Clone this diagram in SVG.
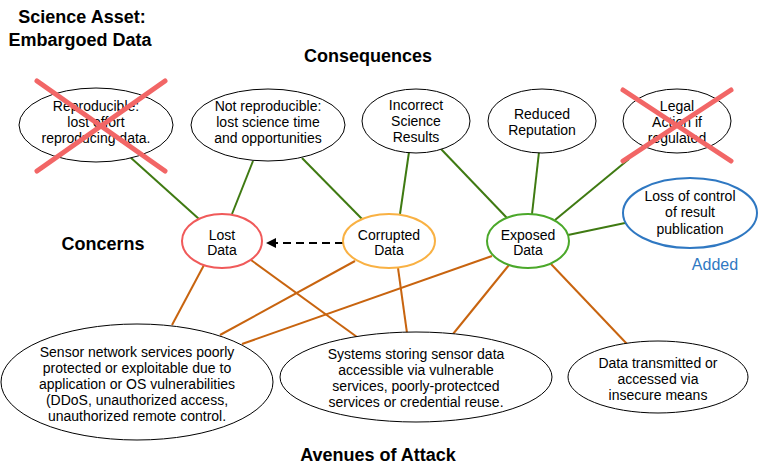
<svg xmlns="http://www.w3.org/2000/svg" width="760" height="471" viewBox="0 0 760 471">
  <style>
    .bg { fill: #ffffff; }
    .node { fill: #ffffff; stroke: #000000; stroke-width: 1; }
    .lbl { font-family: "Liberation Sans", Arial, sans-serif; font-size: 14px; fill: #000000; text-anchor: middle; }
    .head { font-family: "Liberation Sans", Arial, sans-serif; font-size: 18px; font-weight: bold; fill: #000000; text-anchor: middle; }
    .green { stroke: #3f7a12; stroke-width: 2; fill: none; }
    .orange { stroke: #c8640f; stroke-width: 2; fill: none; }
    .cross { stroke: #f26666; stroke-width: 5; stroke-linecap: round; }
  </style>
  <defs>
    <marker id="arrow" viewBox="0 0 10 10" refX="9" refY="5" markerWidth="5" markerHeight="5" orient="auto">
      <path d="M0,0 L10,5 L0,10 Z" fill="#000000"/>
    </marker>
  </defs>
  <rect class="bg" x="0" y="0" width="760" height="471"/>

  <!-- headings -->
  <g id="headings">
    <text class="head" x="82" y="23">Science Asset:</text>
    <text class="head" x="80" y="46">Embargoed Data</text>
    <text class="head" x="368" y="62">Consequences</text>
    <text class="head" x="103" y="250">Concerns</text>
    <text class="head" x="378" y="461">Avenues of Attack</text>
  </g>

  <!-- connectors -->
  <g id="connectors">
    <line class="green" x1="130" y1="157" x2="199" y2="219"/>
    <line class="green" x1="253" y1="161" x2="232" y2="214"/>
    <line class="green" x1="302" y1="158" x2="363" y2="220"/>
    <line class="green" x1="409" y1="152" x2="400" y2="214"/>
    <line class="green" x1="441" y1="149" x2="507" y2="218"/>
    <line class="green" x1="539" y1="152" x2="532" y2="214"/>
    <line class="green" x1="629" y1="159" x2="555" y2="220"/>
    <line class="green" x1="625" y1="223" x2="568" y2="235"/>

    <line class="orange" x1="204" y1="265" x2="172" y2="325"/>
    <line class="orange" x1="251" y1="260" x2="357" y2="337"/>
    <line class="orange" x1="355" y1="261" x2="220" y2="335"/>
    <line class="orange" x1="398" y1="268" x2="407" y2="333"/>
    <line class="orange" x1="492" y1="256" x2="242" y2="344"/>
    <line class="orange" x1="509" y1="265" x2="453" y2="334"/>
    <line class="orange" x1="551" y1="264" x2="627" y2="344"/>

    <line x1="343" y1="243" x2="267" y2="243" stroke="#000000" stroke-width="2" stroke-dasharray="8,5" marker-end="url(#arrow)"/>
  </g>

  <!-- consequences -->
  <g id="reproducible">
    <ellipse class="node" cx="96" cy="125" rx="77" ry="37"/>
    <text class="lbl" x="96" y="111">Reproducible:</text>
    <text class="lbl" x="96" y="127">lost effort</text>
    <text class="lbl" x="96" y="143">reproducing data.</text>
    <line class="cross" x1="37" y1="81" x2="165" y2="171"/>
    <line class="cross" x1="165" y1="81" x2="37" y2="171"/>
  </g>
  <g id="not-reproducible">
    <ellipse class="node" cx="268" cy="125" rx="77" ry="36"/>
    <text class="lbl" x="268" y="111">Not reproducible:</text>
    <text class="lbl" x="268" y="127">lost science time</text>
    <text class="lbl" x="268" y="143">and opportunities</text>
  </g>
  <g id="incorrect-results">
    <ellipse class="node" cx="416" cy="121" rx="54" ry="32"/>
    <text class="lbl" x="416" y="110">Incorrect</text>
    <text class="lbl" x="416" y="126">Science</text>
    <text class="lbl" x="416" y="142">Results</text>
  </g>
  <g id="reduced-reputation">
    <ellipse class="node" cx="542" cy="121" rx="54" ry="32"/>
    <text class="lbl" x="542" y="119">Reduced</text>
    <text class="lbl" x="542" y="135">Reputation</text>
  </g>
  <g id="legal-action">
    <ellipse class="node" cx="677" cy="121" rx="54" ry="32"/>
    <text class="lbl" x="677" y="111">Legal</text>
    <text class="lbl" x="677" y="127">Action if</text>
    <text class="lbl" x="677" y="143">regulated</text>
    <line class="cross" x1="623" y1="90" x2="731" y2="161"/>
    <line class="cross" x1="731" y1="90" x2="623" y2="161"/>
  </g>
  <g id="loss-of-control">
    <ellipse cx="690" cy="213" rx="67" ry="35" fill="#ffffff" stroke="#2f78c2" stroke-width="2"/>
    <text class="lbl" x="690" y="201">Loss of control</text>
    <text class="lbl" x="690" y="217">of result</text>
    <text class="lbl" x="690" y="234">publication</text>
    <text x="715" y="270" font-family="Liberation Sans, Arial, sans-serif" font-size="16" fill="#2f78c2" text-anchor="middle">Added</text>
  </g>

  <!-- concerns -->
  <g id="lost-data">
    <ellipse cx="222" cy="241" rx="40" ry="27" fill="#ffffff" stroke="#f05a5a" stroke-width="2"/>
    <text class="lbl" x="222" y="240">Lost</text>
    <text class="lbl" x="222" y="255">Data</text>
  </g>
  <g id="corrupted-data">
    <ellipse cx="389" cy="241" rx="46" ry="27" fill="#ffffff" stroke="#f9b143" stroke-width="2"/>
    <text class="lbl" x="389" y="240">Corrupted</text>
    <text class="lbl" x="389" y="255">Data</text>
  </g>
  <g id="exposed-data">
    <ellipse cx="528" cy="241" rx="41" ry="27" fill="#ffffff" stroke="#4ba82a" stroke-width="2"/>
    <text class="lbl" x="528" y="240">Exposed</text>
    <text class="lbl" x="528" y="255">Data</text>
  </g>

  <!-- avenues of attack -->
  <g id="sensor-services">
    <ellipse class="node" cx="137" cy="382" rx="136" ry="58"/>
    <text class="lbl" x="137" y="357">Sensor network services poorly</text>
    <text class="lbl" x="137" y="373">protected or exploitable due to</text>
    <text class="lbl" x="137" y="389">application or OS vulnerabilities</text>
    <text class="lbl" x="137" y="405">(DDoS, unauthorized access,</text>
    <text class="lbl" x="137" y="421">unauthorized remote control.</text>
  </g>
  <g id="storage-systems">
    <ellipse class="node" cx="416" cy="377" rx="136" ry="45"/>
    <text class="lbl" x="416" y="359">Systems storing sensor data</text>
    <text class="lbl" x="416" y="375">accessible via vulnerable</text>
    <text class="lbl" x="416" y="391">services, poorly-protectced</text>
    <text class="lbl" x="416" y="407">services or credential reuse.</text>
  </g>
  <g id="insecure-transmission">
    <ellipse class="node" cx="658" cy="377" rx="90" ry="36"/>
    <text class="lbl" x="658" y="368">Data transmitted or</text>
    <text class="lbl" x="658" y="384">accessed via</text>
    <text class="lbl" x="658" y="400">insecure means</text>
  </g>
</svg>
